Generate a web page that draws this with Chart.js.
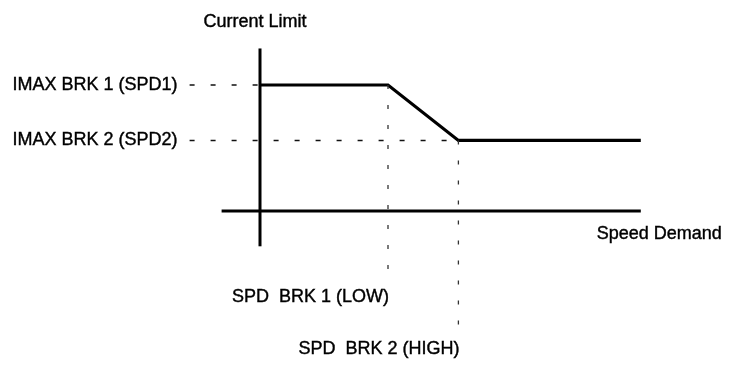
<!DOCTYPE html>
<html>
<head>
<meta charset="utf-8">
<script src="https://cdn.jsdelivr.net/npm/chart.js@4/dist/chart.umd.min.js"></script>
<style>
  html, body { margin: 0; padding: 0; background: #fff; }
  #wrap { width: 730px; height: 365px; position: relative; }
</style>
</head>
<body>
<div id="wrap"><canvas id="chart"></canvas></div>
<script>
// current limit profile against speed demand
const speedPoints = [0, 40, 62, 119];
const currentPoints = [100, 100, 56, 56];

// break points and their labels
const levelValues = [100, 56];
const levelLabels = ['IMAX BRK 1 (SPD1)', 'IMAX BRK 2 (SPD2)'];
const breakSpeeds = [40, 62];
const breakDrops = [-56, -98];
const breakLabels = ['SPD  BRK 1 (LOW)', 'SPD  BRK 2 (HIGH)'];

// axis extents
const xAxisRange = [-12, 119];
const yAxisRange = [-28, 129];
const guideStart = -22;

const FONT = '18px "Liberation Sans", Arial, sans-serif';

const line = (pts, opts) => Object.assign({
  data: pts,
  borderColor: '#000',
  borderWidth: 3,
  pointRadius: 0,
  tension: 0,
  fill: false,
}, opts);

const profile = speedPoints.map((s, i) => ({x: s, y: currentPoints[i]}));

const dashed = {borderWidth: 1.4, borderColor: '#111', borderDash: [5, 16]};
const dotted = {borderWidth: 1.3, borderColor: '#333', borderDash: [4, 16]};

const datasets = [
  // level guides (dashed)
  line([{x: guideStart, y: levelValues[0]}, {x: 0, y: levelValues[0]}], dashed),
  line([{x: guideStart, y: levelValues[1]}, {x: breakSpeeds[1], y: levelValues[1]}], dashed),
  // speed break guides (dotted)
  line([{x: breakSpeeds[0], y: levelValues[0]}, {x: breakSpeeds[0], y: breakDrops[0]}], dotted),
  line([{x: breakSpeeds[1], y: levelValues[1]}, {x: breakSpeeds[1], y: breakDrops[1]}], dotted),
  // axes
  line([{x: xAxisRange[0], y: 0}, {x: xAxisRange[1], y: 0}]),
  line([{x: 0, y: yAxisRange[0]}, {x: 0, y: yAxisRange[1]}]),
  // the profile itself
  line(profile, {borderWidth: 3.2}),
];

const labelPlugin = {
  id: 'labels',
  afterDraw(chart) {
    const {ctx, scales: {x, y}} = chart;
    ctx.save();
    ctx.font = FONT;
    ctx.fillStyle = '#000';
    ctx.strokeStyle = '#000';
    ctx.lineWidth = 0.4;
    ctx.textBaseline = 'middle';
    const put = (t, px, py) => { ctx.fillText(t, px, py); ctx.strokeText(t, px, py); };

    ctx.textAlign = 'right';
    levelLabels.forEach((t, i) => {
      put(t, x.getPixelForValue(guideStart) - 12, y.getPixelForValue(levelValues[i]));
    });
    breakLabels.forEach((t, i) => {
      put(t, x.getPixelForValue(breakSpeeds[i]) + 1, y.getPixelForValue(breakDrops[i]) + 15);
    });
    put('Speed Demand', x.getPixelForValue(xAxisRange[1]) + 81, y.getPixelForValue(0) + 23);

    ctx.textAlign = 'center';
    put('Current Limit', x.getPixelForValue(0) - 5, y.getPixelForValue(yAxisRange[1]) - 26);
    ctx.restore();
  }
};

new Chart(document.getElementById('chart'), {
  type: 'line',
  data: {datasets},
  options: {
    responsive: true,
    maintainAspectRatio: false,
    animation: false,
    layout: {padding: 0},
    plugins: {legend: {display: false}, tooltip: {enabled: false}},
    scales: {
      x: {type: 'linear', display: false, min: -81.25, max: 146.875},
      y: {type: 'linear', display: false, min: -122.2, max: 167.46},
    },
  },
  plugins: [labelPlugin],
});
</script>
</body>
</html>
